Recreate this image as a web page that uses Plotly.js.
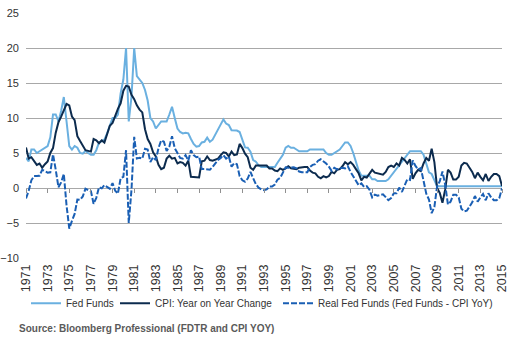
<!DOCTYPE html>
<html>
<head>
<meta charset="utf-8">
<script src="https://cdn.plot.ly/plotly-3.0.1.min.js"></script>
<style>
html,body{margin:0;padding:0;background:#fff;}
#chart{width:512px;height:362px;}
</style>
</head>
<body>
<div id="chart"></div>
<script>
// Quarterly observation dates (Jan, Apr, Jul, Oct)
const dates = [
'1971-01','1971-04','1971-07','1971-10','1972-01','1972-04','1972-07','1972-10',
'1973-01','1973-04','1973-07','1973-10','1974-01','1974-04','1974-07','1974-10',
'1975-01','1975-04','1975-07','1975-10','1976-01','1976-04','1976-07','1976-10',
'1977-01','1977-04','1977-07','1977-10','1978-01','1978-04','1978-07','1978-10',
'1979-01','1979-04','1979-07','1979-10','1980-01','1980-04','1980-07','1980-10',
'1981-01','1981-04','1981-07','1981-10','1982-01','1982-04','1982-07','1982-10',
'1983-01','1983-04','1983-07','1983-10','1984-01','1984-04','1984-07','1984-10',
'1985-01','1985-04','1985-07','1985-10','1986-01','1986-04','1986-07','1986-10',
'1987-01','1987-04','1987-07','1987-10','1988-01','1988-04','1988-07','1988-10',
'1989-01','1989-04','1989-07','1989-10','1990-01','1990-04','1990-07','1990-10',
'1991-01','1991-04','1991-07','1991-10','1992-01','1992-04','1992-07','1992-10',
'1993-01','1993-04','1993-07','1993-10','1994-01','1994-04','1994-07','1994-10',
'1995-01','1995-04','1995-07','1995-10','1996-01','1996-04','1996-07','1996-10',
'1997-01','1997-04','1997-07','1997-10','1998-01','1998-04','1998-07','1998-10',
'1999-01','1999-04','1999-07','1999-10','2000-01','2000-04','2000-07','2000-10',
'2001-01','2001-04','2001-07','2001-10','2002-01','2002-04','2002-07','2002-10',
'2003-01','2003-04','2003-07','2003-10','2004-01','2004-04','2004-07','2004-10',
'2005-01','2005-04','2005-07','2005-10','2006-01','2006-04','2006-07','2006-10',
'2007-01','2007-04','2007-07','2007-10','2008-01','2008-04','2008-07','2008-10',
'2009-01','2009-04','2009-07','2009-10','2010-01','2010-04','2010-07','2010-10',
'2011-01','2011-04','2011-07','2011-10','2012-01','2012-04','2012-07','2012-10',
'2013-01','2013-04','2013-07','2013-10','2014-01','2014-04','2014-07','2014-10',
'2015-01'
];

// Fed Funds (%)
const fedFunds = [
4.3,3.8,5.5,5.5, 5.0,5.25,5.5,5.75,
6.0,7.25,10.5,10.5, 9.5,11.0,13.0,9.5,
6.0,5.5,6.0,5.75, 5.0,4.9,5.3,5.0,
4.75,4.75,5.4,6.5, 6.75,6.9,7.8,8.8,
10.0,10.0,10.5,13.5, 15.5,20.0,9.5,13.0,
20.0,16.0,15.5,15.0, 14.0,12.5,10.0,9.5,
8.5,9.0,9.5,9.5, 9.5,10.5,11.6,10.0,
8.5,8.0,7.8,7.9, 7.8,7.0,6.3,5.9,
6.0,6.5,6.6,7.2, 6.6,6.9,7.6,8.2,
9.0,9.8,9.2,9.0, 8.25,8.25,8.2,8.0,
6.8,5.8,5.75,5.2, 4.0,3.75,3.25,3.0,
3.0,3.0,3.0,3.0, 3.0,3.6,4.25,4.75,
5.75,6.0,5.75,5.75, 5.5,5.25,5.25,5.25,
5.25,5.5,5.5,5.5, 5.5,5.5,5.5,5.0,
4.75,4.75,5.0,5.25, 5.5,6.0,6.5,6.5,
6.0,5.0,3.75,2.5, 1.75,1.75,1.75,1.75,
1.25,1.25,1.0,1.0, 1.0,1.0,1.25,1.75,
2.25,2.75,3.25,3.75, 4.25,4.75,5.25,5.25,
5.25,5.25,5.25,4.75, 3.5,2.25,2.0,1.0,
0.25,0.25,0.25,0.25, 0.25,0.25,0.25,0.25,
0.25,0.25,0.25,0.25, 0.25,0.25,0.25,0.25,
0.25,0.25,0.25,0.25, 0.25,0.25,0.25,0.25,
0.25
];

// CPI: Year on Year Change (%)
const cpiYoY = [
5.8,4.2,4.4,3.8, 3.3,3.5,2.9,3.4,
3.8,5.0,5.7,7.9, 9.4,10.2,11.0,12.0,
11.8,10.2,9.7,7.4, 6.7,6.1,5.4,5.3,
5.2,7.0,6.8,6.4, 6.8,6.5,7.7,8.9,
9.3,10.4,11.3,12.1, 13.9,14.6,14.5,13.3,
12.7,11.8,11.2,10.8, 8.4,7.0,6.3,5.1,
4.5,3.3,2.7,2.9, 4.2,4.6,4.2,4.3,
3.5,3.7,3.6,3.2, 3.9,1.6,1.6,1.5,
1.5,3.8,3.9,4.5, 4.0,3.9,4.1,4.2,
4.7,5.1,5.0,4.5, 5.2,4.7,4.8,6.3,
5.7,4.9,4.4,2.9, 2.6,3.2,3.2,3.2,
3.3,3.2,2.8,2.8, 2.5,2.4,2.8,2.6,
2.8,3.1,2.8,2.8, 2.7,2.9,3.0,3.0,
3.0,2.5,2.2,2.1, 1.6,1.4,1.7,1.5,
1.7,2.3,2.1,2.6, 2.7,3.1,3.7,3.4,
3.7,3.3,2.7,2.1, 1.1,1.6,1.5,2.0,
2.6,2.2,2.1,2.0, 1.9,2.3,3.0,3.2,
3.0,3.5,3.2,4.3, 4.0,3.5,4.1,1.3,
2.1,2.6,2.4,3.5, 4.3,3.9,5.6,3.7,
0.0,-0.7,-2.1,-0.2, 2.6,2.2,1.2,1.2,
1.6,3.2,3.6,3.5, 2.9,2.3,1.4,2.2,
1.6,1.1,2.0,1.0, 1.6,2.0,2.0,1.7,
0.3
];

// Real Fed Funds (Fed Funds - CPI YoY) (%)
const realFedFunds = [
-1.5,-0.4,1.1,1.7, 1.7,1.75,2.6,2.35,
2.2,2.25,4.8,2.6, 0.1,0.8,2.0,-2.5,
-5.8,-4.7,-3.7,-1.65, -1.7,-1.2,-0.1,-0.3,
-0.45,-2.25,-1.4,0.1, -0.05,0.4,0.1,-0.1,
0.7,-0.4,-0.8,1.4, 1.6,5.4,-5.0,-0.3,
7.3,4.2,4.3,4.2, 5.6,5.5,3.7,4.4,
4.0,5.7,6.8,6.6, 5.3,5.9,7.4,5.7,
5.0,4.3,4.2,4.7, 3.9,5.4,4.7,4.4,
4.5,2.7,2.7,2.7, 2.6,3.0,3.5,4.0,
4.3,4.7,4.2,4.5, 3.05,3.55,3.4,1.7,
1.1,0.9,1.35,2.3, 1.4,0.55,0.05,-0.2,
-0.3,-0.2,0.2,0.2, 0.5,1.2,1.45,2.15,
2.95,2.9,2.95,2.95, 2.8,2.35,2.25,2.25,
2.25,3.0,3.3,3.4, 3.9,4.1,3.8,3.5,
3.05,2.45,2.9,2.65, 2.8,2.9,2.8,3.1,
2.3,1.7,1.05,0.4, 0.65,0.15,0.25,-0.25,
-1.35,-0.95,-1.1,-1.0, -0.9,-1.3,-1.75,-1.45,
-0.75,-0.75,0.05,-0.55, 0.25,1.25,1.15,3.95,
3.15,2.65,2.85,1.25, -0.8,-1.65,-3.6,-2.7,
0.25,0.95,2.35,0.45, -2.35,-1.95,-0.95,-0.95,
-1.35,-2.95,-3.35,-3.25, -2.65,-2.05,-1.15,-1.95,
-1.35,-0.85,-1.75,-0.75, -1.35,-1.75,-1.75,-1.45,
-0.05
];

const yTicks = [-10,-5,0,5,10,15,20,25];
const xRange = ['1971-01-01','2015-01-01'];
const sourceText = 'Source: Bloomberg Professional (FDTR and CPI YOY)';

const traces = [
  {x: dates, y: fedFunds, type:'scatter', mode:'lines', name:'Fed Funds',
   legendwidth:44, line:{color:'#6ab0e0', width:2}},
  {x: dates, y: cpiYoY, type:'scatter', mode:'lines', name:'CPI: Year on Year Change',
   legendwidth:118, line:{color:'#0c2b4e', width:2}},
  {x: dates, y: realFedFunds, type:'scatter', mode:'lines', name:'Real Fed Funds (Fed Funds - CPI YoY)',
   legendwidth:172, line:{color:'#1a5fb4', width:2, dash:'6px,2px'}},
  // invisible carrier so the zero-line tick axis is drawn
  {x: dates, y: cpiYoY, xaxis:'x2', type:'scatter', mode:'lines', showlegend:false,
   hoverinfo:'skip', opacity:0, line:{width:0}}
];

const font = "'Liberation Sans', Arial, sans-serif";

const layout = {
  width:512, height:362,
  margin:{l:26, r:10, t:13, b:104, autoexpand:false},
  paper_bgcolor:'#fff', plot_bgcolor:'#fff',
  font:{family:font, size:11, color:'#333'},
  showlegend:true,
  legend:{orientation:'h', x:0, xanchor:'left', y:-0.125, yanchor:'top',
          bgcolor:'rgba(0,0,0,0)',
          font:{family:font, size:10, color:'#333'}, traceorder:'normal',
          itemwidth:30, tracegroupgap:0},
  xaxis:{type:'date', range:xRange, tick0:'1971-01-01', dtick:'M24', tickformat:'%Y',
         tickangle:-90, showgrid:false, zeroline:false, showline:false, ticks:'',
         ticklabelstandoff:3, tickfont:{family:font, size:12.5, color:'#333'}},
  xaxis2:{type:'date', range:xRange, tick0:'1971-01-01', dtick:'M24', overlaying:'x',
          anchor:'free', position:10/35, side:'bottom', showticklabels:false,
          ticks:'outside', ticklen:4, tickcolor:'#909090', tickwidth:1,
          showgrid:false, zeroline:false, showline:false},
  yaxis:{range:[-10,25], tickvals:yTicks, showgrid:true, gridcolor:'#a8a8a8', gridwidth:1,
         zeroline:false, showline:false, ticks:'', ticklabelstandoff:6,
         tickfont:{family:font, size:11, color:'#333'}},
  annotations:[
    {xref:'paper', yref:'paper', x:-0.019, y:-0.286, xanchor:'left', yanchor:'middle',
     text:'<b>'+sourceText+'</b>', showarrow:false,
     font:{family:font, size:10, color:'#5a5a5a'}}
  ]
};

Plotly.newPlot('chart', traces, layout, {staticPlot:true, displayModeBar:false});
</script>
</body>
</html>
